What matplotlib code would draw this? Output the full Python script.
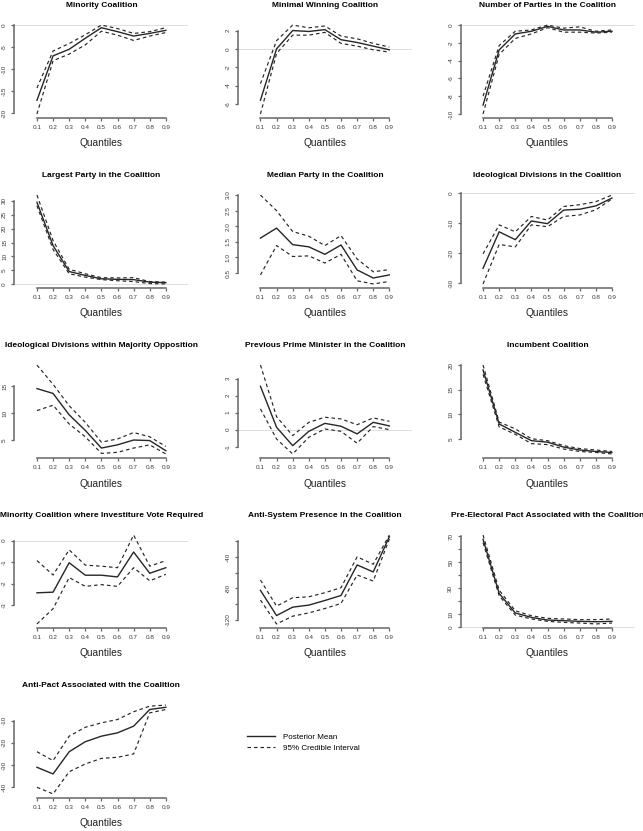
import matplotlib
matplotlib.use("Agg")
import matplotlib.pyplot as plt

plt.rcParams['font.family'] = ['Liberation Sans', 'DejaVu Sans']

quantiles = [0.1, 0.2, 0.3, 0.4, 0.5, 0.6, 0.7, 0.8, 0.9]
x_labels = ['0.1', '0.2', '0.3', '0.4', '0.5', '0.6', '0.7', '0.8', '0.9']

# posterior mean, upper and lower 95% bounds
minority_mean = [-17.1, -7.0, -5.5, -3.0, -0.6, -1.5, -2.5, -1.9, -1.2]
minority_hi = [-14.3, -5.9, -4.2, -2.2, 0.0, -0.8, -1.9, -1.5, -0.6]
minority_lo = [-20.2, -8.1, -6.6, -4.5, -1.4, -2.3, -3.5, -2.5, -1.7]

minwin_mean = [-5.6, 0.0, 2.0, 1.9, 2.1, 1.0, 0.7, 0.3, -0.1]
minwin_hi = [-3.8, 0.9, 2.6, 2.3, 2.5, 1.4, 1.1, 0.6, 0.2]
minwin_lo = [-7.1, -0.5, 1.5, 1.5, 1.8, 0.6, 0.3, -0.1, -0.35]

nparties_mean = [-9.0, -2.8, -1.0, -0.7, -0.15, -0.55, -0.55, -0.8, -0.7]
nparties_hi = [-8.0, -2.3, -0.7, -0.55, 0.0, -0.35, -0.2, -0.7, -0.55]
nparties_lo = [-10.0, -3.3, -1.5, -1.0, -0.3, -0.8, -0.8, -0.9, -0.8]

largest_mean = [29.4, 13.9, 4.6, 3.2, 2.0, 1.8, 1.7, 0.8, 0.6]
largest_hi = [32.0, 15.7, 5.4, 3.8, 2.4, 2.3, 2.4, 1.0, 0.8]
largest_lo = [28.2, 12.5, 3.8, 2.6, 1.7, 1.3, 1.0, 0.3, 0.15]

median_mean = [1.62, 1.94, 1.41, 1.34, 1.1, 1.4, 0.6, 0.34, 0.44]
median_hi = [3.0, 2.5, 1.83, 1.68, 1.38, 1.7, 0.95, 0.54, 0.61]
median_lo = [0.44, 1.38, 1.03, 1.05, 0.82, 1.1, 0.25, 0.15, 0.23]

ideo_mean = [-25.0, -12.9, -15.5, -9.3, -10.2, -5.7, -5.4, -4.3, -1.7]
ideo_hi = [-20.2, -10.6, -12.9, -7.8, -9.0, -4.5, -3.9, -2.9, -0.7]
ideo_lo = [-30.2, -17.1, -17.9, -10.6, -11.2, -7.8, -7.3, -5.6, -2.0]

opp_mean = [14.6, 13.7, 9.7, 6.8, 3.5, 4.1, 5.0, 4.9, 3.0]
opp_hi = [19.0, 15.4, 11.4, 8.3, 4.6, 5.2, 6.4, 5.6, 3.8]
opp_lo = [10.5, 11.5, 8.0, 5.6, 2.5, 2.7, 3.5, 4.1, 2.4]

pm_mean = [2.55, 0.14, -0.94, -0.1, 0.37, 0.2, -0.25, 0.43, 0.22]
pm_hi = [3.8, 0.76, -0.35, 0.43, 0.73, 0.63, 0.29, 0.69, 0.49]
pm_lo = [1.22, -0.55, -1.43, -0.45, 0.04, -0.1, -0.8, 0.18, 0.0]

incumbent_mean = [19.0, 8.0, 6.3, 4.6, 4.3, 3.3, 2.7, 2.4, 2.2]
incumbent_hi = [20.0, 8.4, 7.0, 5.0, 4.6, 3.6, 3.0, 2.7, 2.4]
incumbent_lo = [18.1, 7.4, 5.9, 4.0, 3.8, 2.9, 2.4, 2.2, 1.9]

invest_mean = [-2.43, -2.4, -1.03, -1.61, -1.61, -1.69, -0.53, -1.52, -1.26]
invest_hi = [-0.93, -1.6, -0.43, -1.14, -1.19, -1.26, 0.26, -1.19, -0.93]
invest_lo = [-3.88, -3.17, -1.72, -2.13, -2.05, -2.13, -1.26, -1.87, -1.57]

antisys_mean = [-82.7, -114.8, -104.1, -101.5, -95.6, -89.2, -50.3, -59.2, -14.4]
antisys_hi = [-69.5, -102.8, -92.1, -90.9, -85.7, -79.3, -40.0, -49.4, -12.2]
antisys_lo = [-95.1, -125.5, -115.6, -111.4, -105.8, -99.4, -63.1, -70.8, -17.3]

pact_mean = [67.4, 26.0, 11.0, 7.6, 5.6, 5.1, 4.6, 4.3, 4.6]
pact_hi = [70.7, 28.5, 12.7, 8.9, 6.9, 6.4, 5.9, 5.9, 6.4]
pact_lo = [64.9, 24.2, 9.4, 6.4, 4.6, 3.8, 3.3, 2.6, 3.3]

antipact_mean = [-31.0, -34.0, -24.0, -19.5, -17.0, -15.5, -12.5, -5.0, -4.0]
antipact_hi = [-24.0, -28.0, -17.0, -13.0, -11.0, -9.5, -6.0, -3.5, -3.0]
antipact_lo = [-40.0, -43.0, -33.0, -29.5, -27.0, -26.5, -25.0, -6.5, -5.0]

panels = [
    ('Minority Coalition', minority_mean, minority_hi, minority_lo,
     [-20, -15, -10, -5, 0], ['-20', '-15', '-10', '-5', '0']),
    ('Minimal Winning Coalition', minwin_mean, minwin_hi, minwin_lo,
     [-6, -4, -2, 0, 2], ['-6', '-4', '-2', '0', '2']),
    ('Number of Parties in the Coalition', nparties_mean, nparties_hi, nparties_lo,
     [-10, -8, -6, -4, -2, 0], ['-10', '-8', '-6', '-4', '-2', '0']),
    ('Largest Party in the Coalition', largest_mean, largest_hi, largest_lo,
     [0, 5, 10, 15, 20, 25, 30], ['0', '5', '10', '15', '20', '25', '30']),
    ('Median Party in the Coalition', median_mean, median_hi, median_lo,
     [0.5, 1.0, 1.5, 2.0, 2.5, 3.0], ['0.5', '1.0', '1.5', '2.0', '2.5', '3.0']),
    ('Ideological Divisions in the Coalition', ideo_mean, ideo_hi, ideo_lo,
     [-30, -20, -10, 0], ['-30', '-20', '-10', '0']),
    ('Ideological Divisions within Majority Opposition', opp_mean, opp_hi, opp_lo,
     [5, 10, 15], ['5', '10', '15']),
    ('Previous Prime Minister in the Coalition', pm_mean, pm_hi, pm_lo,
     [-1, 0, 1, 2, 3], ['-1', '0', '1', '2', '3']),
    ('Incumbent Coalition', incumbent_mean, incumbent_hi, incumbent_lo,
     [5, 10, 15, 20], ['5', '10', '15', '20']),
    ('Minority Coalition where Investiture Vote Required', invest_mean, invest_hi, invest_lo,
     [-3, -2, -1, 0], ['-3', '-2', '-1', '0']),
    ('Anti-System Presence in the Coalition', antisys_mean, antisys_hi, antisys_lo,
     [-120, -100, -80, -60, -40, -20], ['-120', '', '-80', '', '-40', '']),
    ('Pre-Electoral Pact Associated with the Coalition', pact_mean, pact_hi, pact_lo,
     [0, 10, 20, 30, 40, 50, 60, 70], ['0', '10', '', '30', '', '50', '', '70']),
    ('Anti-Pact Associated with the Coalition', antipact_mean, antipact_hi, antipact_lo,
     [-40, -30, -20, -10], ['-40', '-30', '-20', '-10']),
]

W, H = 643, 831
fig = plt.figure(figsize=(W / 100, H / 100), dpi=100)

col_left = [14.4, 237.9, 460.5]
plot_w = 174.0
plot_h = 96.0
line_col = '#262626'
axis_col = '#666666'
dash = (0, (3, 2.5))

for i, (title, mean, hi, lo, yticks, ylabels) in enumerate(panels):
    r, c = divmod(i, 3)
    bottom = 117.5 + 170 * r
    ax = fig.add_axes([col_left[c] / W, 1 - bottom / H, plot_w / W, plot_h / H])

    ymin = min(min(mean), min(hi), min(lo))
    ymax = max(max(mean), max(hi), max(lo))
    pad = 0.04 * (ymax - ymin)
    ax.set_xlim(-0.04, 1.04)
    ax.set_ylim(ymin - pad, ymax + pad)

    ax.axhline(0, color='#dddddd', lw=0.7, zorder=0)
    mean_line, = ax.plot(quantiles, mean, color=line_col, lw=1.0)
    ci_line, = ax.plot(quantiles, hi, color=line_col, lw=0.85, ls=dash)
    ax.plot(quantiles, lo, color=line_col, lw=0.85, ls=dash)

    for s in ['top', 'right']:
        ax.spines[s].set_visible(False)
    ax.spines['left'].set_bounds(min(yticks), max(yticks))
    ax.spines['bottom'].set_bounds(0.1, 0.9)
    for s in ['left', 'bottom']:
        ax.spines[s].set_color(axis_col)
        ax.spines[s].set_linewidth(1.1)

    ax.set_xticks(quantiles)
    ax.set_xticklabels(x_labels)
    ax.set_yticks(yticks)
    ax.set_yticklabels(ylabels, rotation=90, va='center')
    ax.tick_params(length=2.4, width=0.9, color=axis_col, labelsize=4.6,
                   labelcolor='#3c3c3c', pad=2.8)

    ax.set_title(title, fontsize=6, fontweight='bold', y=112 / plot_h,
                 va='center', pad=0)
    ax.set_xlabel('Quantiles', fontsize=7.3, color='#222222')
    ax.xaxis.set_label_coords(0.5, -26 / plot_h)
    ax.xaxis.label.set_va('center')

fig.legend(handles=[mean_line, ci_line],
           labels=['Posterior Mean', '95% Credible Interval'],
           loc='upper left', bbox_to_anchor=(247 / W, 1 - 733 / H),
           frameon=False, fontsize=5.8, handlelength=3.5, handletextpad=1.0,
           borderpad=0, borderaxespad=0, labelspacing=0.5)

fig.savefig('out.png', dpi=100)
